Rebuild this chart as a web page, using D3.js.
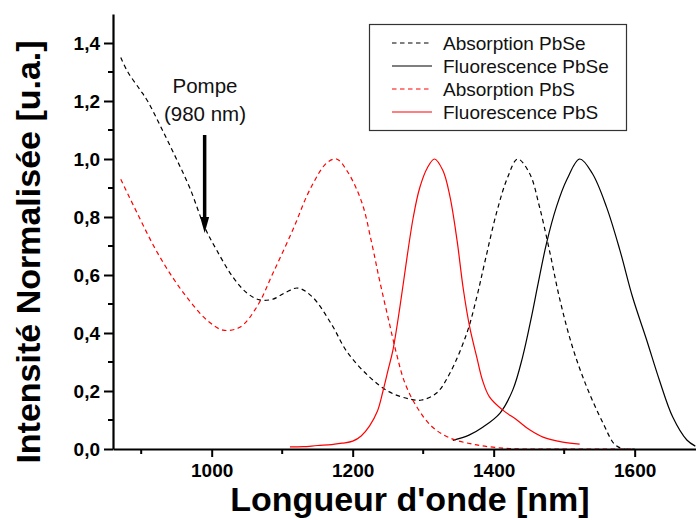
<!DOCTYPE html>
<html lang="fr">
<head>
  <meta charset="UTF-8">
  <title>Absorption / Fluorescence PbSe PbS</title>
  <script src="https://d3js.org/d3.v7.min.js"></script>
  <style>
    body {
      margin: 0;
      padding: 0;
      background: #fff;
      font-family: "Liberation Sans", Arial, sans-serif;
    }
    svg { display: block; }
    .tick-label { font-weight: bold; font-size: 19px; fill: #000; }
    .axis-title { font-weight: bold; font-size: 34px; fill: #000; }
    .legend-text { font-size: 19px; fill: #111; }
    .note { font-size: 20.5px; fill: #111; }
  </style>
</head>
<body>
  <div id="chart"></div>
  <script>
    const width = 696;
    const height = 520;

    // [longueur d'onde (nm), intensité normalisée]
    const absorptionPbSe = [
      [871, 1.35], [881, 1.30], [898, 1.24], [909, 1.20], [930, 1.10], [950, 1.0],
      [969, 0.90], [990, 0.765], [1007, 0.686], [1030, 0.593], [1050, 0.538],
      [1068, 0.514], [1087, 0.517], [1105, 0.54], [1122, 0.555], [1143, 0.524],
      [1170, 0.43], [1192, 0.335], [1224, 0.248], [1252, 0.197],
      [1281, 0.172], [1298, 0.169], [1319, 0.193], [1338, 0.262], [1362, 0.40],
      [1376, 0.524], [1387, 0.64], [1404, 0.814], [1420, 0.938], [1434, 1.0],
      [1451, 0.95], [1465, 0.835], [1479, 0.686], [1494, 0.514], [1512, 0.35],
      [1532, 0.214], [1555, 0.09], [1572, 0.015], [1585, 0], [1600, 0]
    ];
    const fluorescencePbSe = [
      [1342, 0.03], [1365, 0.048], [1385, 0.076], [1409, 0.124], [1427, 0.203],
      [1441, 0.317], [1454, 0.46], [1463, 0.57], [1475, 0.71], [1489, 0.835],
      [1504, 0.93], [1522, 1.0], [1540, 0.95], [1560, 0.835], [1579, 0.686],
      [1597, 0.524], [1617, 0.376], [1635, 0.238], [1654, 0.11], [1674, 0.031],
      [1686, 0.01]
    ];
    const absorptionPbS = [
      [871, 0.93], [895, 0.81], [920, 0.69], [945, 0.59], [969, 0.51], [993, 0.445],
      [1016, 0.41], [1040, 0.42], [1064, 0.49], [1087, 0.607], [1115, 0.755],
      [1139, 0.893], [1163, 0.986], [1177, 1.0], [1193, 0.955], [1213, 0.85],
      [1227, 0.71], [1238, 0.583], [1250, 0.455], [1262, 0.33], [1274, 0.228],
      [1291, 0.145], [1313, 0.076], [1338, 0.038], [1376, 0.014], [1413, 0.003],
      [1440, 0], [1600, 0]
    ];
    const fluorescencePbS = [
      [1111, 0.007], [1130, 0.008], [1150, 0.012], [1170, 0.015], [1185, 0.02],
      [1200, 0.027], [1212, 0.045], [1224, 0.08], [1235, 0.13], [1243, 0.2],
      [1250, 0.27], [1257, 0.34], [1267, 0.49], [1277, 0.66], [1286, 0.80],
      [1295, 0.90], [1306, 0.97], [1316, 1.0], [1328, 0.96], [1338, 0.87],
      [1348, 0.72], [1357, 0.55], [1366, 0.42], [1376, 0.317], [1384, 0.238],
      [1394, 0.18], [1413, 0.134], [1433, 0.10], [1451, 0.066], [1470, 0.041],
      [1498, 0.024], [1522, 0.017]
    ];

    const xMajorTicks = [1000, 1200, 1400, 1600];
    const xMinorTicks = [900, 1100, 1300, 1500];
    const yMajorTicks = [0, 0.2, 0.4, 0.6, 0.8, 1.0, 1.2, 1.4];
    const yMinorTicks = [0.1, 0.3, 0.5, 0.7, 0.9, 1.1, 1.3];

    const series = [
      { name: "Absorption PbSe", data: absorptionPbSe, color: "#000", dash: "4.5,3.5" },
      { name: "Fluorescence PbSe", data: fluorescencePbSe, color: "#000", dash: null },
      { name: "Absorption PbS", data: absorptionPbS, color: "#ff0000", dash: "4.5,3.5" },
      { name: "Fluorescence PbS", data: fluorescencePbS, color: "#ff0000", dash: null }
    ];

    const pumpNm = 990;

    const x = d3.scaleLinear().domain([860, 1687]).range([113, 696]);
    const y = d3.scaleLinear().domain([0, 1.5]).range([449, 14]);

    const svg = d3.select("#chart")
      .append("svg")
      .attr("width", width)
      .attr("height", height);

    // courbes
    const line = d3.line()
      .x(d => x(d[0]))
      .y(d => Math.min(y(0), y(d[1])))
      .curve(d3.curveCatmullRom.alpha(0.5));

    svg.selectAll("path.curve")
      .data(series)
      .join("path")
      .attr("class", "curve")
      .attr("d", d => line(d.data))
      .attr("fill", "none")
      .attr("stroke", d => d.color)
      .attr("stroke-width", 1.2)
      .attr("stroke-dasharray", d => d.dash);

    // axe X
    const xAxis = svg.append("g").attr("transform", `translate(0,${y(0)})`);
    xAxis.call(d3.axisBottom(x).tickValues(xMajorTicks).tickSize(8).tickSizeOuter(0).tickFormat(d3.format("d")));
    xAxis.select(".domain").attr("stroke-width", 2.2);
    xAxis.selectAll(".tick line").attr("stroke-width", 2);
    xAxis.selectAll(".tick text").attr("class", "tick-label").attr("dy", "0.95em").attr("y", 10)
      .style("font-family", "'Liberation Sans', Arial, sans-serif");
    svg.append("g").selectAll("line")
      .data(xMinorTicks)
      .join("line")
      .attr("x1", d => x(d)).attr("x2", d => x(d))
      .attr("y1", y(0)).attr("y2", y(0) + 5)
      .attr("stroke", "#000").attr("stroke-width", 2);

    // axe Y
    const frFormat = d => d3.format(".1f")(d).replace(".", ",");
    const yAxis = svg.append("g").attr("transform", `translate(${x(860)},0)`);
    yAxis.call(d3.axisLeft(y).tickValues(yMajorTicks).tickSize(9).tickSizeOuter(0).tickFormat(frFormat));
    yAxis.select(".domain").attr("stroke-width", 2.2);
    yAxis.selectAll(".tick line").attr("stroke-width", 2);
    yAxis.selectAll(".tick text").attr("class", "tick-label").attr("x", -13)
      .style("font-family", "'Liberation Sans', Arial, sans-serif");
    svg.append("g").selectAll("line")
      .data(yMinorTicks)
      .join("line")
      .attr("x1", x(860) - 5).attr("x2", x(860))
      .attr("y1", d => y(d)).attr("y2", d => y(d))
      .attr("stroke", "#000").attr("stroke-width", 2);

    // titres des axes
    svg.append("text")
      .attr("class", "axis-title")
      .attr("x", 410)
      .attr("y", 511)
      .attr("text-anchor", "middle")
      .text("Longueur d'onde [nm]");

    svg.append("text")
      .attr("class", "axis-title")
      .attr("transform", "translate(40,252) rotate(-90)")
      .attr("text-anchor", "middle")
      .text("Intensité Normalisée [u.a.]");

    // annotation pompe
    svg.append("text").attr("class", "note")
      .attr("x", 205).attr("y", 93).attr("text-anchor", "middle").text("Pompe");
    svg.append("text").attr("class", "note")
      .attr("x", 205).attr("y", 121).attr("text-anchor", "middle").text("(980 nm)");
    const ax = x(pumpNm);
    svg.append("line")
      .attr("x1", ax).attr("x2", ax)
      .attr("y1", 135).attr("y2", 220)
      .attr("stroke", "#000").attr("stroke-width", 3.5);
    svg.append("path")
      .attr("d", `M${ax - 4.5},217 L${ax + 4.5},217 L${ax},233 Z`)
      .attr("fill", "#000");

    // légende
    const legend = svg.append("g");
    legend.append("rect")
      .attr("x", 369.5).attr("y", 24.5)
      .attr("width", 257).attr("height", 106)
      .attr("fill", "#fff")
      .attr("stroke", "#333").attr("stroke-width", 1.2);
    const rows = legend.selectAll("g.row")
      .data(series)
      .join("g")
      .attr("class", "row")
      .attr("transform", (d, i) => `translate(0,${43 + i * 23})`);
    rows.append("line")
      .attr("x1", 392).attr("x2", 432)
      .attr("stroke", d => d.color)
      .attr("stroke-width", 1.2)
      .attr("stroke-dasharray", d => d.dash);
    rows.append("text")
      .attr("class", "legend-text")
      .attr("x", 443)
      .attr("dy", "0.35em")
      .text(d => d.name);
  </script>
</body>
</html>
